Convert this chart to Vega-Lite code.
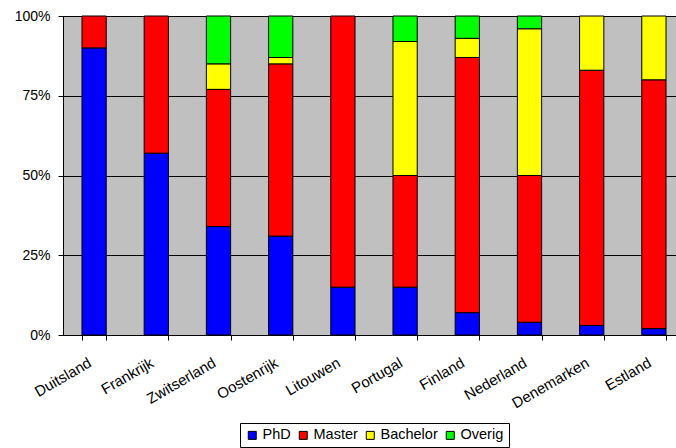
{
  "$schema": "https://vega.github.io/schema/vega-lite/v6.json",
  "width": 613,
  "height": 319,
  "autosize": {"type": "none"},
  "padding": {"left": 63, "top": 16, "right": 0, "bottom": 113},
  "background": "white",
  "config": {
    "font": "Liberation Sans",
    "view": {"fill": "#C0C0C0", "stroke": null},
    "axis": {
      "labelFont": "Liberation Sans",
      "labelFontSize": 14,
      "labelColor": "black",
      "domainColor": "black",
      "domainWidth": 1,
      "tickColor": "black",
      "tickWidth": 1,
      "tickSize": 5,
      "title": null
    },
    "legend": {
      "labelFont": "Liberation Sans",
      "labelFontSize": 14.5,
      "labelColor": "black"
    }
  },
  "data": {
    "values": [
      {"land": "Duitsland", "niveau": "PhD", "aandeel": 90},
      {"land": "Duitsland", "niveau": "Master", "aandeel": 10},
      {"land": "Duitsland", "niveau": "Bachelor", "aandeel": 0},
      {"land": "Duitsland", "niveau": "Overig", "aandeel": 0},
      {"land": "Frankrijk", "niveau": "PhD", "aandeel": 57},
      {"land": "Frankrijk", "niveau": "Master", "aandeel": 43},
      {"land": "Frankrijk", "niveau": "Bachelor", "aandeel": 0},
      {"land": "Frankrijk", "niveau": "Overig", "aandeel": 0},
      {"land": "Zwitserland", "niveau": "PhD", "aandeel": 34},
      {"land": "Zwitserland", "niveau": "Master", "aandeel": 43},
      {"land": "Zwitserland", "niveau": "Bachelor", "aandeel": 8},
      {"land": "Zwitserland", "niveau": "Overig", "aandeel": 15},
      {"land": "Oostenrijk", "niveau": "PhD", "aandeel": 31},
      {"land": "Oostenrijk", "niveau": "Master", "aandeel": 54},
      {"land": "Oostenrijk", "niveau": "Bachelor", "aandeel": 2},
      {"land": "Oostenrijk", "niveau": "Overig", "aandeel": 13},
      {"land": "Litouwen", "niveau": "PhD", "aandeel": 15},
      {"land": "Litouwen", "niveau": "Master", "aandeel": 85},
      {"land": "Litouwen", "niveau": "Bachelor", "aandeel": 0},
      {"land": "Litouwen", "niveau": "Overig", "aandeel": 0},
      {"land": "Portugal", "niveau": "PhD", "aandeel": 15},
      {"land": "Portugal", "niveau": "Master", "aandeel": 35},
      {"land": "Portugal", "niveau": "Bachelor", "aandeel": 42},
      {"land": "Portugal", "niveau": "Overig", "aandeel": 8},
      {"land": "Finland", "niveau": "PhD", "aandeel": 7},
      {"land": "Finland", "niveau": "Master", "aandeel": 80},
      {"land": "Finland", "niveau": "Bachelor", "aandeel": 6},
      {"land": "Finland", "niveau": "Overig", "aandeel": 7},
      {"land": "Nederland", "niveau": "PhD", "aandeel": 4},
      {"land": "Nederland", "niveau": "Master", "aandeel": 46},
      {"land": "Nederland", "niveau": "Bachelor", "aandeel": 46},
      {"land": "Nederland", "niveau": "Overig", "aandeel": 4},
      {"land": "Denemarken", "niveau": "PhD", "aandeel": 3},
      {"land": "Denemarken", "niveau": "Master", "aandeel": 80},
      {"land": "Denemarken", "niveau": "Bachelor", "aandeel": 17},
      {"land": "Denemarken", "niveau": "Overig", "aandeel": 0},
      {"land": "Estland", "niveau": "PhD", "aandeel": 2},
      {"land": "Estland", "niveau": "Master", "aandeel": 78},
      {"land": "Estland", "niveau": "Bachelor", "aandeel": 20},
      {"land": "Estland", "niveau": "Overig", "aandeel": 0}
    ]
  },
  "transform": [
    {"filter": "datum.aandeel > 0"},
    {"calculate": "indexof(['PhD','Master','Bachelor','Overig'], datum.niveau)", "as": "volgorde"}
  ],
  "mark": {"type": "bar", "stroke": "black", "strokeWidth": 1},
  "encoding": {
    "x": {
      "field": "land",
      "type": "nominal",
      "sort": ["Duitsland", "Frankrijk", "Zwitserland", "Oostenrijk", "Litouwen", "Portugal", "Finland", "Nederland", "Denemarken", "Estland"],
      "scale": {"range": [0, 622], "paddingInner": 0.61, "paddingOuter": 0.305},
      "axis": {
        "labelAngle": -30,
        "labelAlign": "right",
        "labelBaseline": "top",
        "labelFontSize": 15,
        "tickBand": "extent",
        "labelPadding": 15,
        "labelOffset": -8,
        "grid": false
      }
    },
    "y": {
      "field": "aandeel",
      "type": "quantitative",
      "stack": "normalize",
      "scale": {"domain": [0, 1]},
      "axis": {
        "format": ".0%",
        "values": [0, 0.25, 0.5, 0.75, 1],
        "grid": true,
        "gridColor": "black",
        "gridOpacity": 1,
        "gridWidth": 1,
        "labelPadding": 8
      }
    },
    "color": {
      "field": "niveau",
      "type": "nominal",
      "sort": ["PhD", "Master", "Bachelor", "Overig"],
      "scale": {
        "domain": ["PhD", "Master", "Bachelor", "Overig"],
        "range": ["#0000FF", "#FF0000", "#FFFF00", "#00FF00"]
      },
      "legend": {
        "title": null,
        "orient": "none",
        "legendX": 177,
        "legendY": 407,
        "direction": "horizontal",
        "strokeColor": "black",
        "fillColor": "white",
        "padding": 5,
        "symbolType": "square",
        "symbolSize": 64,
        "symbolOpacity": 1,
        "symbolStrokeColor": "black",
        "symbolStrokeWidth": 1,
        "labelOffset": 3,
        "columnPadding": 5
      }
    },
    "order": {"field": "volgorde", "type": "quantitative", "sort": "ascending"}
  }
}
